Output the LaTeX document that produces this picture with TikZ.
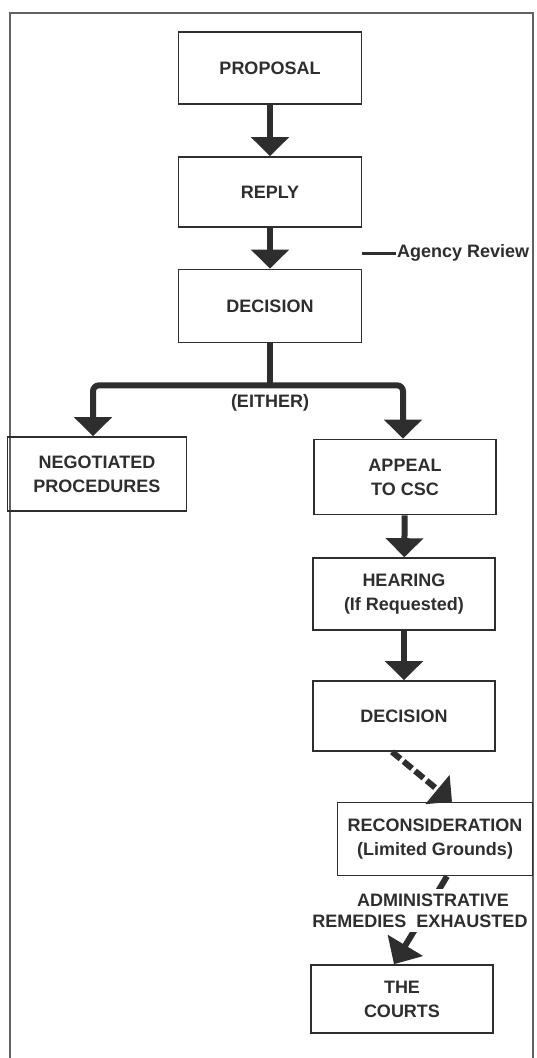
\documentclass[tikz,border=0pt]{standalone}
\usepackage{fontspec}
\setmainfont{Liberation Sans}
\usetikzlibrary{arrows.meta,calc}
\definecolor{ink}{HTML}{2E2E2E}
\tikzstyle{stage} = [rectangle, draw=ink, line width=1.6pt, text=ink, align=center, inner sep=0pt, font=\fontsize{18}{24}\selectfont\bfseries]
\tikzstyle{flow} = [ink, line width=6pt, -{Triangle[width=37pt,length=19pt]}]
\tikzstyle{note} = [text=ink, inner sep=1pt, font=\fontsize{18}{22}\selectfont\bfseries]

\begin{document}
\begin{tikzpicture}[x=1pt,y=-1pt]
\useasboundingbox (0,0) rectangle (536,1058);
\fill[white] (0,0) rectangle (536,1058);
% frame
\draw[ink!75,line width=1.4pt] (10,1058)--(10,13)--(533,13)--(533,1058);

% boxes
\node[stage,minimum width=183pt,minimum height=72pt] (proposal) at (270,68) {PROPOSAL};
\node[stage,minimum width=183pt,minimum height=70pt] (reply) at (270,192) {REPLY};
\node[stage,minimum width=183pt,minimum height=73pt] (decision) at (270,306) {DECISION};
\node[stage,minimum width=179pt,minimum height=74pt] (negotiated) at (97,474) {NEGOTIATED\\PROCEDURES};
\node[stage,minimum width=182pt,minimum height=75pt] (appeal) at (405,477) {APPEAL\\TO CSC};
\node[stage,minimum width=182pt,minimum height=72pt] (hearing) at (404,594) {HEARING\\(If Requested)};
\node[stage,minimum width=182pt,minimum height=70pt] (decisioncsc) at (404,716) {DECISION};
\node[stage,minimum width=195pt,minimum height=73pt] (reconsider) at (435,839) {RECONSIDERATION\\(Limited Grounds)};
\node[stage,minimum width=182pt,minimum height=68pt] (courts) at (402,999) {THE\\COURTS};

% arrows
\draw[flow] (proposal) -- (reply);
\draw[flow] (reply) -- (decision);
\node[note,anchor=west] (agency) at (396,253) {Agency Review};
\draw[ink,line width=3pt] (agency.west) -- ++(-34,0);

\draw[ink,line width=6pt] (decision.south) -- ++(0,42) coordinate (split);
\draw[flow,rounded corners=6pt] (split) -| ($(negotiated.north)+(-4,0)$);
\draw[flow,rounded corners=6pt] (split) -| ($(appeal.north)+(-2,0)$);
\node[note] (either) at (270,403) {(EITHER)};

\draw[flow] (appeal) -- (hearing);
\draw[flow] (hearing) -- (decisioncsc);
\draw[flow,dash pattern=on 11pt off 4pt] ($(decisioncsc.south)+(-12,0)$) -- ($(reconsider.north)+(17,0)$);
\draw[flow,-{Triangle[width=40pt,length=22pt]}] ($(reconsider.south)+(12,0)$) -- ($(courts.north)+(-8,0)$);
\node[note,fill=white,minimum height=22pt] (admin) at (433,900) {ADMINISTRATIVE};
\node[note,fill=white,minimum height=22pt] (remedies) at (420,921) {REMEDIES\ \ EXHAUSTED};
\end{tikzpicture}
\end{document}
